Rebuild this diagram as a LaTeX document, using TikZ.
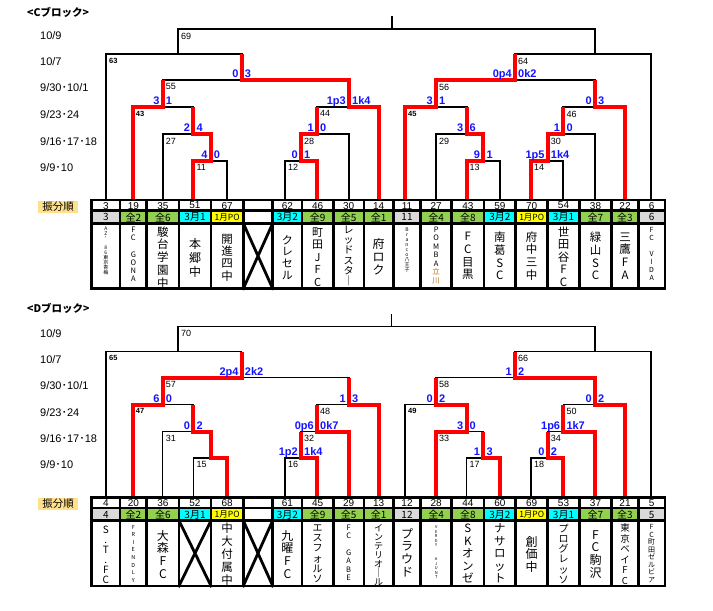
\documentclass[tikz,border=0pt]{standalone}
\usepackage{fontspec}
\setmainfont{Liberation Sans}
\newfontfamily\jp{Noto Sans CJK JP}
\definecolor{zgreen}{HTML}{92D050}
\definecolor{zcyan}{HTML}{00FFFF}
\definecolor{zyellow}{HTML}{FFFF00}
\definecolor{zgray}{HTML}{D9D9D9}
\definecolor{zlabel}{HTML}{FFE08C}
\definecolor{zblue}{HTML}{1414FF}
\definecolor{zorange}{HTML}{C07010}
\def\LA{29.3}\def\LB{54.3}\def\LC{80.3}\def\LD{107.3}\def\LE{134.3}\def\LF{160.7}\def\LT{200}
\def\TT{200}\def\TA{210.7}\def\TB{223.3}\def\TC{288.6}
\def\bnd{{91.7,120,146.7,179,211,243.3,272.7,302,333.3,364,393.3,420.7,451.7,484,515.7,547.7,579.3,611.7,638.3,665}}
\def\bkw{2pt}
\newcommand\nmf[2]{\jp\fontsize{#1}{#2}\selectfont}
\newcommand\po{{\fontsize{8.5}{8.5}\selectfont 1月PO}}
\newcommand\sco[4]{\node[scl] at ({#1-3},{#2-2.5}) {#3};\node[scr] at ({#1+3},{#2-2.5}) {#4};}
\newcommand\mlab[3]{\node[ml] at ({#1+3},{#2+3.3}) {#3};}
\newcommand\mlabs[3]{\node[mls] at ({#1+3},{#2+3.8}) {#3};}
\newcommand\skel{%
 \draw[bk] (178,\LA)--(595,\LA) (391.7,\LA)--(391.7,17)
  (106,\LB)--(241.7,\LB) (515,\LB)--(651,\LB)
  (162.7,\LC)--(349,\LC) (436,\LC)--(595,\LC)
  (132.7,\LD)--(193.3,\LD) (317,\LD)--(379,\LD) (405,\LD)--(466.5,\LD) (563.3,\LD)--(625,\LD)
  (162.7,\LE)--(210.7,\LE) (301,\LE)--(349,\LE) (436,\LE)--(483.3,\LE) (547.7,\LE)--(595,\LE)
  (193.3,\LF)--(226.7,\LF) (285,\LF)--(317,\LF) (466.5,\LF)--(500,\LF) (531,\LF)--(563.3,\LF)
  (178,\LB)--(178,\LA) (595,\LB)--(595,\LA)
  (106,\LT)--(106,\LB) (651,\LT)--(651,\LB)
  (241.7,\LC)--(241.7,\LB) (515,\LC)--(515,\LB)
  (162.7,\LD)--(162.7,\LC) (349,\LD)--(349,\LC) (436,\LD)--(436,\LC) (595,\LD)--(595,\LC)
  (132.7,\LT)--(132.7,\LD) (379,\LT)--(379,\LD) (405,\LT)--(405,\LD) (625,\LT)--(625,\LD)
  (193.3,\LE)--(193.3,\LD) (317,\LE)--(317,\LD) (466.5,\LE)--(466.5,\LD) (563.3,\LE)--(563.3,\LD)
  (162.7,\LT)--(162.7,\LE) (349,\LT)--(349,\LE) (436,\LT)--(436,\LE) (595,\LT)--(595,\LE)
  (210.7,\LF)--(210.7,\LE) (301,\LF)--(301,\LE) (483.3,\LF)--(483.3,\LE) (547.7,\LF)--(547.7,\LE)
  (193.3,\LT)--(193.3,\LF) (226.7,\LT)--(226.7,\LF) (285,\LT)--(285,\LF) (317,\LT)--(317,\LF)
  (466.5,\LT)--(466.5,\LF) (500,\LT)--(500,\LF) (531,\LT)--(531,\LF) (563.3,\LT)--(563.3,\LF);
}
\newcommand\tabrows[1]{%
 \foreach \ta/\tb/\tc [count=\n from 0] in {#1} {%
  \pgfmathsetmacro\xa{\bnd[\n]}\pgfmathsetmacro\xb{\bnd[\n+1]}%
  \fill[\tc] (\xa,\TA) rectangle (\xb,\TB);
  \node[rone] at ({(\xa+\xb)/2},205.6) {\ta};
  \node[rtwo] at ({(\xa+\xb)/2},217.2) {\tb};
 }}
\newcommand\grid{%
 \draw[tb] (91.7,\TT) rectangle (665,\TC);
 \draw[tb] (91.7,\TA)--(665,\TA) (91.7,\TB)--(665,\TB);
 \foreach \n in {1,...,18} {\pgfmathsetmacro\xa{\bnd[\n]}\draw[tb] (\xa,\TT)--(\xa,\TC);}
 \draw[tb] (243.3,\TB)--(272.7,\TC) (243.3,\TC)--(272.7,\TB);
 \node[lbl] (lab) at (58,206.5) {振分順};
 \node[dl] (d1) at (40,36) {10/9};
 \node[dl] (d2) at (40,62) {10/7};
 \node[dl] (d3) at (40,88) {9/30{\jp ･}10/1};
 \node[dl] (d4) at (40,115) {9/23{\jp ･}24};
 \node[dl] (d5) at (40,141.5) {9/16{\jp ･}17{\jp ･}18};
 \node[dl] (d6) at (40,167.7) {9/9{\jp ･}10};
}
\tikzset{
 bk/.style={line width=\bkw, line cap=rect},
 rd/.style={line width=4pt, red, line join=miter},
 tb/.style={line width=2.8pt, line cap=rect},
 scl/.style={anchor=base east, inner sep=0pt, text=zblue, font=\fontsize{11}{11}\selectfont\bfseries},
 scr/.style={anchor=base west, inner sep=0pt, text=zblue, font=\fontsize{11}{11}\selectfont\bfseries},
 ml/.style={anchor=north west, inner sep=0pt, font=\fontsize{9}{9}\selectfont},
 mls/.style={anchor=north west, inner sep=0pt, font=\fontsize{7.5}{7.5}\selectfont\bfseries},
 dl/.style={anchor=west, inner sep=0pt, font=\fontsize{11}{11}\selectfont},
 ttl/.style={anchor=west, inner sep=0pt, font=\jp\bfseries\fontsize{10.5}{10.5}\selectfont},
 lbl/.style={fill=zlabel, inner sep=0pt, minimum width=40pt, minimum height=12pt, font=\jp\fontsize{10.5}{10.5}\selectfont},
 rone/.style={inner sep=0pt, font=\fontsize{10}{10}\selectfont},
 rtwo/.style={inner sep=0pt, font=\jp\fontsize{10}{10}\selectfont},
 nm/.style={align=center, inner sep=0pt},
}
\begin{document}
\begin{tikzpicture}[x=1pt,y=-1pt]
\useasboundingbox[fill=white] (0,0) rectangle (713,611);
% ================= C block =================
\begin{scope}
\node[ttl] (tc) at (27,12) {<Cブロック>};
\skel
\draw[rd] (132.7,\LT)--(132.7,\LD)--(162.7,\LD)--(162.7,\LC);
\draw[rd] (193.3,\LT)--(193.3,\LF)--(210.7,\LF)--(210.7,\LE)--(193.3,\LE)--(193.3,\LD);
\draw[rd] (317,\LT)--(317,\LF)--(301,\LF)--(301,\LE)--(317,\LE)--(317,\LD);
\draw[rd] (379,\LT)--(379,\LD)--(349,\LD)--(349,\LC)--(241.7,\LC)--(241.7,\LB);
\draw[rd] (405,\LT)--(405,\LD)--(436,\LD)--(436,\LC)--(515,\LC)--(515,\LB);
\draw[rd] (466.5,\LT)--(466.5,\LF)--(483.3,\LF)--(483.3,\LE)--(466.5,\LE)--(466.5,\LD);
\draw[rd] (531,\LT)--(531,\LF)--(547.7,\LF)--(547.7,\LE)--(563.3,\LE)--(563.3,\LD);
\draw[rd] (625,\LT)--(625,\LD)--(595,\LD)--(595,\LC);
\tabrows{3/3/zgray, 19/全2/zgreen, 35/全6/zgreen, 51/3月1/zcyan, 67/\po/zyellow, {}/{}/white, 62/3月2/zcyan, 46/全9/zgreen, 30/全5/zgreen, 14/全1/zgreen, 11/11/zgray, 27/全4/zgreen, 43/全8/zgreen, 59/3月2/zcyan, 70/\po/zyellow, 54/3月1/zcyan, 38/全7/zgreen, 22/全3/zgreen, 6/6/zgray}
\grid
\node[nm, anchor=north, font=\nmf{5}{5}] at (105.85,227) {A\\Z\\'\\[4pt]8\\6\\東\\京\\青\\梅};
\node[nm, anchor=north, font=\nmf{7.5}{8.2}] at (133.35,227) {F\\C\\[8pt]G\\O\\N\\A};
\node[nm, font=\nmf{11.5}{12.9}] at (162.85,257.5) {駿\\台\\学\\園\\中};
\node[nm, font=\nmf{12}{14}] at (195,257.5) {本\\郷\\中};
\node[nm, font=\nmf{11.5}{12.3}] at (227.15,257.5) {開\\進\\四\\中};
\node[nm, font=\nmf{11}{11.8}] at (287.35,257.5) {ク\\レ\\セ\\ル};
\node[nm, font=\nmf{11}{12.5}] at (317.65,257) {町\\田\\J\\F\\C};
\node[nm, font=\nmf{10}{10.3}] at (348.65,256) {レ\\ッ\\ド\\ス\\タ\\｜};
\node[nm, font=\nmf{12}{13.3}] at (378.65,256.7) {府\\ロ\\ク};
\node[nm, anchor=north, font=\nmf{5}{5}] at (407,227.5) {B\\r\\a\\n\\c\\o\\八\\王\\子};
\node[nm, anchor=north, font=\nmf{7.5}{8.5}] at (436.2,226.5) {P\\O\\M\\B\\A\\{\color{zorange}立}\\{\color{zorange}川}};
\node[nm, font=\nmf{11.5}{12.8}] at (467.85,256) {F\\C\\目\\黒};
\node[nm, font=\nmf{11.5}{12.8}] at (499.85,256) {南\\葛\\S\\C};
\node[nm, font=\nmf{11.5}{12.8}] at (531.7,256) {府\\中\\三\\中};
\node[nm, font=\nmf{11.5}{12.5}] at (563.5,256.7) {世\\田\\谷\\F\\C};
\node[nm, font=\nmf{11.5}{12.8}] at (595.5,256) {緑\\山\\S\\C};
\node[nm, font=\nmf{11.5}{12.8}] at (625,256) {三\\鷹\\F\\A};
\node[nm, anchor=north, font=\nmf{7}{8}] at (651.65,227) {F\\C\\[8pt]V\\I\\D\\A};
\sco{210.7}{\LF}{4}{0}
\sco{193.3}{\LE}{2}{4}
\sco{162.7}{\LD}{3}{1}
\sco{301}{\LF}{0}{1}
\sco{317}{\LE}{1}{0}
\sco{349}{\LD}{1p3}{1k4}
\sco{241.7}{\LC}{0}{3}
\sco{436}{\LD}{3}{1}
\sco{466.5}{\LE}{3}{6}
\sco{483.3}{\LF}{9}{1}
\sco{547.7}{\LF}{1p5}{1k4}
\sco{563.3}{\LE}{1}{0}
\sco{595}{\LD}{0}{3}
\sco{515}{\LC}{0p4}{0k2}
\mlab{178}{\LA}{69}
\mlabs{106}{\LB}{63}
\mlab{515}{\LB}{64}
\mlab{162.7}{\LC}{55}
\mlab{436}{\LC}{56}
\mlabs{132.7}{\LD}{43}
\mlab{317}{\LD}{44}
\mlabs{405}{\LD}{45}
\mlab{563.3}{\LD}{46}
\mlab{162.7}{\LE}{27}
\mlab{301}{\LE}{28}
\mlab{436}{\LE}{29}
\mlab{547.7}{\LE}{30}
\mlab{193.3}{\LF}{11}
\mlab{285}{\LF}{12}
\mlab{466.5}{\LF}{13}
\mlab{531}{\LF}{14}
\end{scope}
% ================= D block =================
\begin{scope}[yshift=-297.3pt]
\def\bkw{1.3pt}
\node[ttl] (td) at (27,11) {<Dブロック>};
\skel
\draw[rd] (132.7,\LT)--(132.7,\LD)--(162.7,\LD)--(162.7,\LC)--(241.7,\LC)--(241.7,\LB);
\draw[rd] (226.7,\LT)--(226.7,\LF)--(210.7,\LF)--(210.7,\LE)--(193.3,\LE)--(193.3,\LD);
\draw[rd] (317,\LT)--(317,\LF)--(301,\LF)--(301,\LE);
\draw[rd] (349,\LT)--(349,\LE)--(317,\LE)--(317,\LD);
\draw[rd] (379,\LT)--(379,\LD)--(349,\LD)--(349,\LC);
\draw[rd] (436,\LT)--(436,\LE)--(466.5,\LE)--(466.5,\LD)--(436,\LD)--(436,\LC);
\draw[rd] (500,\LT)--(500,\LF)--(483.3,\LF)--(483.3,\LE);
\draw[rd] (563.3,\LT)--(563.3,\LF)--(547.7,\LF)--(547.7,\LE);
\draw[rd] (595,\LT)--(595,\LE)--(563.3,\LE)--(563.3,\LD);
\draw[rd] (625,\LT)--(625,\LD)--(595,\LD)--(595,\LC)--(515,\LC)--(515,\LB);
\tabrows{4/4/zgray, 20/全2/zgreen, 36/全6/zgreen, 52/3月1/zcyan, 68/\po/zyellow, {}/{}/white, 61/3月2/zcyan, 45/全9/zgreen, 29/全5/zgreen, 13/全1/zgreen, 12/12/zgray, 28/全4/zgreen, 44/全8/zgreen, 60/3月2/zcyan, 69/\po/zyellow, 53/3月1/zcyan, 37/全7/zgreen, 21/全3/zgreen, 5/5/zgray}
\grid
\draw[tb] (179,\TB)--(211,\TC) (179,\TC)--(211,\TB);
\node[nm, font=\nmf{10}{10}] at (105.85,257.5) {S\\.\\T\\.\\F\\C};
\node[nm, anchor=north, font=\nmf{5.5}{7.6}] at (133.35,227.5) {F\\R\\I\\E\\N\\D\\L\\Y};
\node[nm, font=\nmf{12}{12.8}] at (162.85,257) {大\\森\\F\\C};
\node[nm, font=\nmf{11.5}{13}] at (227.15,257) {中\\大\\付\\属\\中};
\node[nm, font=\nmf{12}{12.8}] at (287.35,257) {九\\曜\\F\\C};
\node[nm, font=\nmf{10}{10.3}] at (317.65,256.5) {エ\\ス\\フ\\ォ\\ル\\ソ};
\node[nm, anchor=north, font=\nmf{7.5}{8.5}] at (348.65,227) {F\\C\\[8pt]G\\A\\B\\E};
\node[nm, font=\nmf{9}{9}] at (378.65,257.5) {イ\\ン\\テ\\リ\\オ\\｜\\ル};
\node[nm, font=\nmf{12}{12.8}] at (407,255.2) {プ\\ラ\\ウ\\ド};
\node[nm, anchor=north, font=\nmf{4}{4.6}] at (436.2,228) {V\\E\\R\\D\\Y\\[9pt]A\\J\\U\\N\\T};
\node[nm, font=\nmf{11.5}{12.5}] at (467.85,256.3) {S\\K\\オ\\ン\\ゼ};
\node[nm, font=\nmf{11.5}{12.5}] at (499.85,256.3) {ナ\\サ\\ロ\\ッ\\ト};
\node[nm, font=\nmf{12}{12.5}] at (531.7,257) {創\\価\\中};
\node[nm, font=\nmf{10}{10.3}] at (563.5,256.5) {プ\\ロ\\グ\\レ\\ッ\\ソ};
\node[nm, font=\nmf{12}{12.8}] at (595.5,257) {F\\C\\駒\\沢};
\node[nm, font=\nmf{9.5}{10.5}] at (625,256.6) {東\\京\\ベ\\イ\\F\\C};
\node[nm, font=\nmf{7}{7.5}] at (651.65,256.4) {F\\C\\町\\田\\ゼ\\ル\\ビ\\ア};
\sco{162.7}{\LD}{6}{0}
\sco{193.3}{\LE}{0}{2}
\sco{241.7}{\LC}{2p4}{2k2}
\sco{301}{\LF}{1p2}{1k4}
\sco{317}{\LE}{0p6}{0k7}
\sco{349}{\LD}{1}{3}
\sco{436}{\LD}{0}{2}
\sco{466.5}{\LE}{3}{0}
\sco{483.3}{\LF}{1}{3}
\sco{547.7}{\LF}{0}{2}
\sco{563.3}{\LE}{1p6}{1k7}
\sco{595}{\LD}{0}{2}
\sco{515}{\LC}{1}{2}
\mlab{178}{\LA}{70}
\mlabs{106}{\LB}{65}
\mlab{515}{\LB}{66}
\mlab{162.7}{\LC}{57}
\mlab{436}{\LC}{58}
\mlabs{132.7}{\LD}{47}
\mlab{317}{\LD}{48}
\mlabs{405}{\LD}{49}
\mlab{563.3}{\LD}{50}
\mlab{162.7}{\LE}{31}
\mlab{301}{\LE}{32}
\mlab{436}{\LE}{33}
\mlab{547.7}{\LE}{34}
\mlab{193.3}{\LF}{15}
\mlab{285}{\LF}{16}
\mlab{466.5}{\LF}{17}
\mlab{531}{\LF}{18}
\end{scope}
\end{tikzpicture}
\end{document}
